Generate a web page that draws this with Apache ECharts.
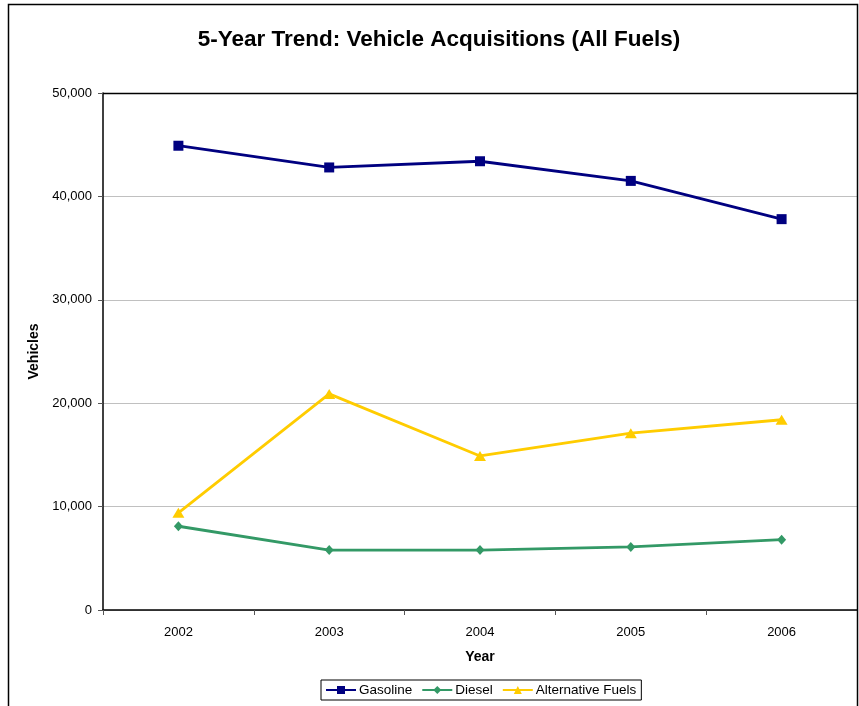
<!DOCTYPE html>
<html>
<head>
<meta charset="utf-8">
<script src="https://cdn.jsdelivr.net/npm/echarts@6/dist/echarts.min.js"></script>
<style>
  html, body { margin: 0; padding: 0; background: #fff; }
  #chart { width: 859px; height: 706px; }
</style>
</head>
<body>
<div id="chart"></div>
<script>
// Vehicle acquisitions by fuel type, 2002–2006
const years = ['2002', '2003', '2004', '2005', '2006'];
const gasoline = [44900, 42800, 43400, 41500, 37800];
const diesel = [8100, 5800, 5800, 6100, 6800];
const alternativeFuels = [9400, 20900, 14900, 17100, 18400];

const FONT = 'Liberation Sans, Arial, sans-serif';

const chart = echarts.init(document.getElementById('chart'));
chart.setOption({
  animation: false,
  backgroundColor: '#fff',
  title: {
    text: '5-Year Trend: Vehicle Acquisitions (All Fuels)',
    left: 434,
    top: 23,
    textAlign: 'center',
    textStyle: { fontFamily: FONT, fontSize: 22.5, fontWeight: 'bold', color: '#000' }
  },
  legend: {
    bottom: 6,
    left: 321,
    itemWidth: 30,
    itemHeight: 10,
    itemGap: 9,
    padding: [3, 5, 3, 4],
    borderColor: '#000',
    borderWidth: 1,
    borderRadius: 0,
    textStyle: { fontFamily: FONT, fontSize: 13.5, color: '#000', padding: [0, 0, 0, -2] },
    data: ['Gasoline', 'Diesel', 'Alternative Fuels']
  },
  grid: { left: 103, right: 2, top: 93, bottom: 96 },
  xAxis: {
    type: 'category',
    data: years,
    boundaryGap: true,
    name: 'Year',
    nameLocation: 'middle',
    nameGap: 40,
    nameTextStyle: { fontFamily: FONT, fontSize: 14, fontWeight: 'bold', color: '#000' },
    axisLine: { lineStyle: { color: '#000', width: 1.5 } },
    axisTick: { show: true, length: 5, lineStyle: { color: '#555' } },
    axisLabel: { fontFamily: FONT, fontSize: 13, color: '#000', margin: 16 }
  },
  yAxis: {
    type: 'value',
    min: 0,
    max: 50000,
    interval: 10000,
    name: 'Vehicles',
    nameLocation: 'middle',
    nameGap: 62,
    nameRotate: 90,
    nameTextStyle: { fontFamily: FONT, fontSize: 14, fontWeight: 'bold', color: '#000' },
    axisLine: { show: true, lineStyle: { color: '#000', width: 1.5 } },
    axisTick: { show: true, length: 5, lineStyle: { color: '#555' } },
    axisLabel: {
      fontFamily: FONT, fontSize: 13, color: '#000', margin: 11,
      formatter: v => v.toLocaleString('en-US')
    },
    splitLine: { lineStyle: { color: '#c0c0c0', width: 1 } }
  },
  graphic: [
    {
      type: 'rect',
      z: 100,
      shape: { x: 8.5, y: 4.5, width: 849, height: 720 },
      style: { fill: 'none', stroke: '#000', lineWidth: 1.5 },
      silent: true
    },
    {
      type: 'line',
      z: 100,
      shape: { x1: 103, y1: 93.5, x2: 857, y2: 93.5 },
      style: { stroke: '#000', lineWidth: 1.5 },
      silent: true
    }
  ],
  series: [
    {
      name: 'Gasoline',
      type: 'line',
      data: gasoline,
      color: '#000080',
      symbol: 'rect',
      symbolSize: 10,
      lineStyle: { width: 2.8, color: '#000080' },
      itemStyle: { color: '#000080' }
    },
    {
      name: 'Diesel',
      type: 'line',
      data: diesel,
      color: '#339966',
      symbol: 'diamond',
      symbolSize: [9, 10],
      lineStyle: { width: 2.8, color: '#339966' },
      itemStyle: { color: '#339966' }
    },
    {
      name: 'Alternative Fuels',
      type: 'line',
      data: alternativeFuels,
      color: '#FFCC00',
      symbol: 'triangle',
      symbolSize: [12, 10],
      lineStyle: { width: 2.8, color: '#FFCC00' },
      itemStyle: { color: '#FFCC00' }
    }
  ]
});
</script>
</body>
</html>
